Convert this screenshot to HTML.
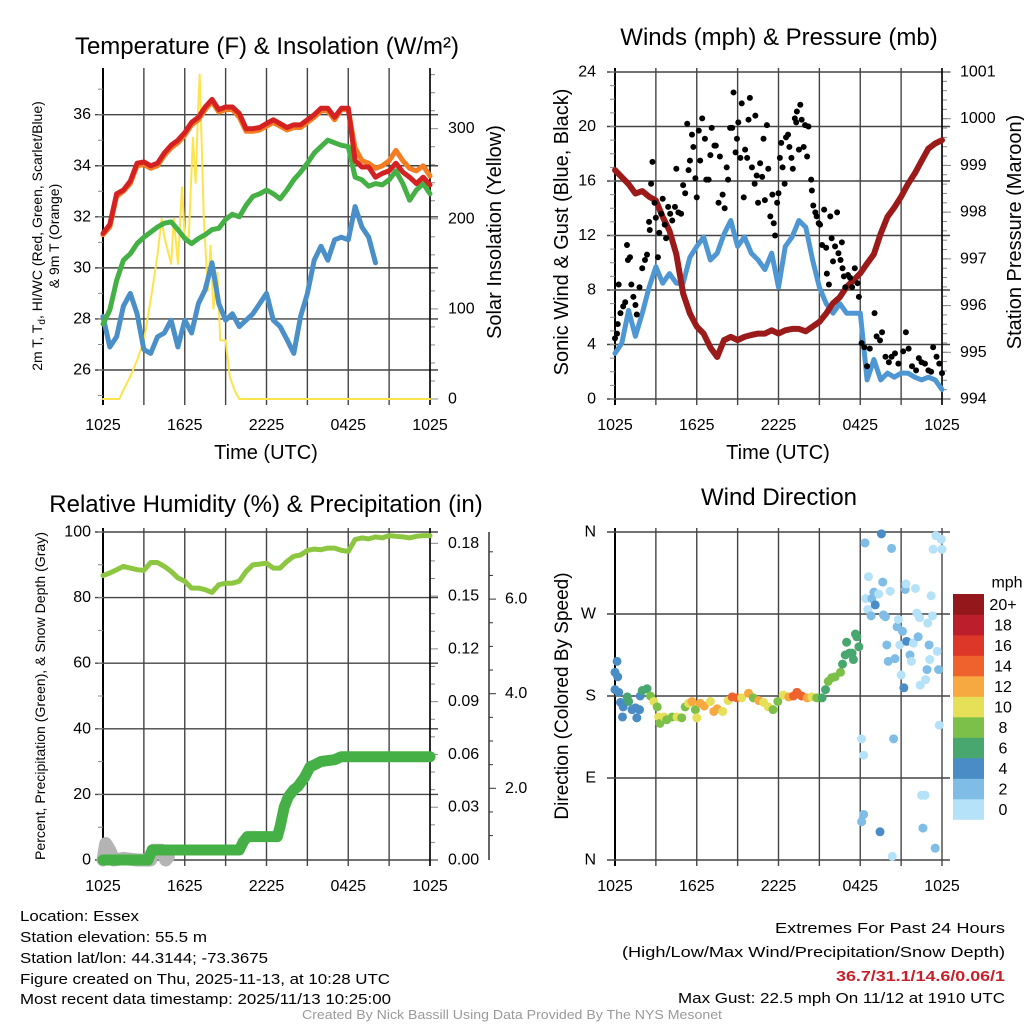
<!DOCTYPE html>
<html><head><meta charset="utf-8"><style>
html,body{margin:0;padding:0;background:#fff;}
svg{display:block;font-family:"Liberation Sans",Arial,sans-serif;}
</style></head><body>
<svg id="fig" width="1024" height="1024" viewBox="0 0 1024 1024" xmlns="http://www.w3.org/2000/svg">
<rect width="1024" height="1024" fill="#fff"/>
<g id="p1"></g>
<g id="p2"></g>
<g id="p3"></g>
<g id="p4"></g>
<g font-family="'Liberation Sans Narrow','Liberation Sans',sans-serif" font-size="15" fill="#000">
<text x="20" y="921" textLength="119" lengthAdjust="spacingAndGlyphs">Location: Essex</text>
<text x="20" y="942" textLength="187" lengthAdjust="spacingAndGlyphs">Station elevation: 55.5 m</text>
<text x="20" y="963" textLength="248" lengthAdjust="spacingAndGlyphs">Station lat/lon: 44.3144; -73.3675</text>
<text x="20" y="984" textLength="370" lengthAdjust="spacingAndGlyphs">Figure created on Thu, 2025-11-13, at 10:28 UTC</text>
<text x="20" y="1004" textLength="371" lengthAdjust="spacingAndGlyphs">Most recent data timestamp: 2025/11/13 10:25:00</text>
</g>
<g font-family="'Liberation Sans Narrow','Liberation Sans',sans-serif" font-size="15" fill="#000">
<text x="775" y="933" textLength="230" lengthAdjust="spacingAndGlyphs">Extremes For Past 24 Hours</text>
<text x="622" y="957" textLength="383" lengthAdjust="spacingAndGlyphs">(High/Low/Max Wind/Precipitation/Snow Depth)</text>
<text x="836" y="981" textLength="169" lengthAdjust="spacingAndGlyphs" fill="#c8202a" font-weight="bold">36.7/31.1/14.6/0.06/1</text>
<text x="678" y="1003" textLength="327" lengthAdjust="spacingAndGlyphs">Max Gust: 22.5 mph On 11/12 at 1910 UTC</text>
</g>
<text x="302" y="1019" textLength="420" lengthAdjust="spacingAndGlyphs" font-family="'Liberation Sans Narrow','Liberation Sans',sans-serif" font-size="12.5" fill="#9a9a9a">Created By Nick Bassill Using Data Provided By The NYS Mesonet</text>
</svg>
<script>
// ---- data ----
const hours = [0,0.5,1,1.5,2,2.5,3,3.5,4,4.5,5,5.5,6,6.5,7,7.5,8,8.5,9,9.5,10,10.5,11,11.5,12,12.5,13,13.5,14,14.5,15,15.5,16,16.5,17,17.5,18,18.5,19,19.5,20,20.5,21,21.5,22,22.5,23,23.5,24];
const timeTickLabels = ["1025","1625","2225","0425","1025"];
const tempRed = [31.35,31.7,32.9,33.05,33.4,34.1,34.15,34.0,34.1,34.5,34.8,35.0,35.3,35.7,35.9,36.3,36.6,36.2,36.3,36.3,36.05,35.45,35.45,35.5,35.65,35.8,35.65,35.5,35.6,35.6,35.8,36.0,36.25,36.25,35.9,36.25,36.25,34.2,33.95,33.95,33.55,33.7,33.8,34.1,33.75,33.55,33.3,33.55,33.25];
const temp9m = [31.3,31.6,32.8,33.0,33.3,34.0,34.05,33.9,34.0,34.4,34.7,34.9,35.2,35.6,35.8,36.2,36.5,36.1,36.2,36.2,35.9,35.35,35.35,35.4,35.55,35.7,35.55,35.4,35.5,35.5,35.7,35.9,36.15,36.15,35.8,36.2,36.2,34.7,34.2,34.1,33.9,34.0,34.2,34.6,34.2,33.9,33.8,34.0,33.6];
const dewGreen = [27.8,28.35,29.5,30.3,30.55,30.95,31.2,31.4,31.6,31.75,31.8,31.5,31.15,30.95,31.15,31.3,31.5,31.55,31.9,32.1,32.0,32.45,32.8,32.9,33.05,32.9,32.7,33.05,33.45,33.75,34.1,34.5,34.75,35.0,34.9,34.8,34.75,33.55,33.45,33.2,33.3,33.25,33.45,33.8,33.3,32.65,33.05,33.3,32.9];
const chillBlue = [28.1,26.9,27.3,28.5,29.0,28.2,26.8,26.65,27.3,27.45,27.95,26.9,27.95,27.45,28.6,29.15,30.2,28.6,27.95,28.2,27.7,27.95,28.2,28.6,29.0,27.95,27.7,27.2,26.65,28.1,29.0,30.3,30.85,30.3,31.1,31.2,31.1,32.4,31.6,31.2,30.2,null,32.05,null,null,null,null,null,null];
const solarT = [0,1.2,1.5,2,2.5,3,3.5,4,4.3,4.5,5,5.2,5.5,5.8,6,6.3,6.6,6.8,7,7.1,7.4,7.7,7.9,8.1,8.4,8.6,9,9.3,9.7,10,24];
const solarW = [0,0,10,25,43,65,110,160,200,180,150,200,150,235,180,180,290,240,330,360,200,120,170,100,140,65,65,25,8,0,0];
const windBlue = [3.35,4.1,6.5,4.6,6.3,8.2,9.7,8.5,9.2,8.5,8.5,10.4,11.2,11.9,10.2,10.7,12.1,13.1,11.2,11.9,10.7,10.2,9.5,10.7,8.2,11.2,11.9,13.1,12.6,10.2,8.2,7.0,6.3,7.0,6.3,6.3,6.3,1.4,2.9,1.4,1.9,1.6,1.9,1.9,1.6,1.4,1.6,1.4,0.7];
const pressure = [998.9,998.75,998.6,998.4,998.45,998.33,998.25,997.9,997.6,997.1,996.26,995.83,995.55,995.4,995.1,994.9,995.26,995.33,995.26,995.33,995.37,995.4,995.4,995.47,995.4,995.47,995.5,995.5,995.45,995.55,995.65,995.83,996.05,996.18,996.4,996.54,996.69,996.9,997.1,997.54,997.9,998.1,998.33,998.6,998.83,999.1,999.36,999.47,999.54];
const gustT = [0,0.15,0.2,0.27,0.4,0.6,0.75,0.88,0.95,1.1,1.2,1.35,1.5,1.6,1.8,2.0,2.2,2.35,2.5,2.55,2.65,2.75,2.9,3.0,3.15,3.25,3.4,3.5,3.65,3.75,3.9,4.05,4.2,4.4,4.5,4.65,4.85,5.0,5.15,5.3,5.4,5.5,5.65,5.75,5.9,6.0,6.15,6.25,6.4,6.6,6.7,6.87,7.0,7.1,7.3,7.4,7.6,7.7,7.9,8.05,8.2,8.3,8.45,8.6,8.7,8.85,8.95,9.05,9.2,9.3,9.45,9.55,9.7,9.8,9.9,10.05,10.25,10.3,10.4,10.5,10.65,10.8,10.9,11.0,11.15,11.25,11.4,11.55,11.65,11.75,11.9,12.0,12.1,12.2,12.3,12.45,12.55,12.7,12.8,12.95,13.05,13.2,13.3,13.35,13.5,13.6,13.7,13.85,13.95,14.1,14.2,14.4,14.45,14.55,14.7,14.8,14.95,15.05,15.2,15.35,15.5,15.55,15.7,15.8,15.9,16.0,16.15,16.3,16.4,16.55,16.65,16.7,16.8,16.9,17.1,17.25,17.4,17.6,17.8,17.9,18.1,18.3,18.5,18.7,19.05,19.2,19.45,19.6,19.85,20.1,20.3,20.55,20.8,21.15,21.35,21.55,21.8,22.1,22.3,22.5,22.75,23.0,23.2,23.35,23.6,23.8,24.0];
const gustV = [4.45,4.8,5.5,8.4,6.3,6.8,7.1,11.3,10.2,10.4,8.4,7.5,6.9,6.2,8.2,9.6,10.2,10.6,13.0,12.4,15.8,17.4,14.4,13.3,10.4,12.2,13.6,14.7,12.8,11.8,14.1,13.6,13.1,14.1,16.9,13.7,13.6,15.7,15.1,20.2,16.8,17.5,19.4,18.5,16.2,14.8,19.7,17.5,20.6,19.1,16.1,16.1,17.9,19.9,18.6,18.6,14.4,17.8,15.0,14.0,17.0,16.1,19.9,19.9,22.5,18.1,19.1,20.3,17.7,21.7,14.8,18.3,17.7,20.5,22.1,17.0,15.8,20.8,16.4,14.4,17.3,16.3,19.1,14.6,20.1,16.9,13.4,15.0,12.9,12.0,14.4,15.1,17.7,18.8,17.0,15.8,19.2,19.4,18.5,17.7,16.9,20.6,20.3,21.1,18.3,21.6,20.5,18.5,20.1,17.8,20.0,16.1,15.3,14.2,13.7,13.4,12.9,12.8,11.3,13.9,11.1,9.2,8.4,13.4,11.8,10.1,11.2,13.7,10.7,10.2,11.5,9.6,9.0,8.2,9.1,8.9,8.2,9.6,8.5,7.5,4.1,3.8,2.4,3.7,6.3,4.6,4.3,4.9,3.1,2.7,3.1,3.35,2.6,3.5,4.9,3.7,2.4,2.1,3.0,2.7,2.6,2.1,2.0,3.8,3.1,2.6,1.9];
const rh = [86.7,87.5,88.5,89.5,89,88.5,88.3,90.7,90.7,89.5,88,86,85,82.9,82.9,82.4,81.6,83.9,84.4,84.4,85,88,90,90.2,90.5,89,89,91,92.6,93,94.4,94.8,94.6,95.1,95.1,94.4,94.1,97.7,98.2,97.9,98.5,98.2,98.9,98.7,98.5,98.2,98.7,98.9,98.9];
const precipT = [0,3.3,3.6,10.0,10.3,10.6,12.8,13.0,13.3,13.6,14.0,14.3,14.8,15.2,15.5,16.0,17.0,17.5,24];
const precipV = [0,0,0.0057,0.0057,0.0104,0.0133,0.0133,0.019,0.030,0.036,0.040,0.0417,0.047,0.053,0.054,0.056,0.057,0.0587,0.0587];
const snowT = [0,0.2,0.5,0.8,1.5,2.5,3.5,3.7,4.3,4.6,4.8];
const snowV = [0,5,3,0,0.5,0,0,3,3,0,1];
const dirT = [0,0.15,0.2,0,0.27,0.4,0.6,0.55,0.9,1.0,1.25,1.5,1.6,1.8,1.85,2.0,2.35,2.6,2.85,3.1,3.2,3.3,3.6,3.8,4.2,4.55,4.9,5.15,5.4,5.65,5.9,6.0,6.25,6.55,7.0,7.25,7.5,7.9,8.3,8.6,8.95,9.3,9.8,10.15,10.55,10.9,11.25,11.6,11.95,12.35,12.75,13.1,13.35,13.7,14.1,14.45,14.8,15.2,15.45,15.65,15.9,16.15,16.55,16.7,16.9,17.0,17.2,17.4,17.5,17.65,17.75,17.9,18.1,18.25,18.1,18.25,18.35,18.6,18.4,18.55,18.8,18.85,19.0,19.1,19.35,19.45,19.55,19.65,19.7,19.85,19.95,20.05,20.2,20.3,20.45,20.35,20.55,20.7,20.8,20.9,21.0,21.1,21.2,21.3,21.35,21.4,21.65,21.75,21.9,22.05,22.15,22.25,22.35,22.4,22.5,22.75,22.6,22.8,22.95,23.05,23.1,23.2,23.3,22.9,23.35,23.5,23.55,23.65,23.75,23.8,24.0,23.95];
const dirDeg = [206,218,201,187,184,173,168,157,179,174,165,167,156,165,180,186,188,180,174,168,157,150,157,154,157,157,156,168,172,174,165,156,172,169,174,163,166,163,175,179,178,178,183,178,175,173,168,165,174,181,179,180,184,180,178,179,178,178,187,196,200,201,206,215,225,239,227,227,220,248,245,234,133,115,42,50,348,311,287,275,268,287,294,280,292,31,358,305,269,267,236,218,295,342,133,4,221,256,264,236,203,251,189,297,303,240,225,218,238,298,271,245,266,192,71,71,35,198,260,236,220,290,268,209,341,13,356,229,209,148,341,352];
const dirSpd = [4.5,4.5,4.5,4.5,4.5,4.5,4.5,4.5,6.5,6.5,4.5,4.5,4.5,4.5,4.5,6.5,6.5,8.5,10.5,8.5,10.5,8.5,10.5,8.5,8.5,10.5,8.5,8.5,10.5,12.5,8.5,10.5,12.5,12.5,10.5,12.5,12.5,10.5,10.5,14.5,14.5,10.5,12.5,8.5,12.5,10.5,10.5,8.5,8.5,10.5,12.5,14.5,14.5,14.5,12.5,10.5,8.5,6.5,6.5,8.5,8.5,8.5,8.5,6.5,6.5,6.5,6.5,6.5,6.5,6.5,6.5,6.5,0.5,0.5,2.5,2.5,2.5,0.5,0.5,1,2.5,2.5,2.5,4.5,1,4.5,4.5,2.5,2.5,2.5,2.5,2.5,1,2.5,2.5,0.5,2.5,2.5,1,1,1,2.5,4.5,2.5,1,4.5,2.5,1,1,1,1,2.5,1,1,1,1,2.5,1,1,2.5,1,1,1,2.5,1,2.5,1,1,2.5,1,1,1];
const speedBins = ["0","2","4","6","8","10","12","14","16","18","20+"];
const speedColors = ["#b5e2f8","#7fbce6","#4a8dc6","#48a66f","#7cc04a","#e6df58","#f6a940","#f0622d","#dc3729","#bd1e2b","#94171c"];

// ---- helpers ----
const NS="http://www.w3.org/2000/svg";
function mk(parent,tag,attrs,text){const e=document.createElementNS(NS,tag);for(const k in attrs)e.setAttribute(k,attrs[k]);if(text!==undefined)e.textContent=text;parent.appendChild(e);return e;}
function lin(d0,d1,r0,r1){return v=>r0+(v-d0)/(d1-d0)*(r1-r0);}
function pathD(ts,vs,sx,sy){let d="",pen=false;for(let i=0;i<ts.length;i++){const v=vs[i];if(v===null||v===undefined){pen=false;continue;}d+=(pen?"L":"M")+sx(ts[i]).toFixed(1)+","+sy(v).toFixed(1);pen=true;}return d;}
function frame(g,L,R,T,B,sx){
  for(let h=0;h<=24;h+=3){const x=sx(h);const ln=mk(g,"line",{x1:x,x2:x,y1:T-4,y2:B+6,stroke:h==0?"#000":"#444","stroke-width":h==0?2:1.4});
    
    }
  for(let i=0;i<timeTickLabels.length;i++){const t=mk(g,"text",{x:sx(i*6),y:B+31,"font-size":16,"text-anchor":"middle"},timeTickLabels[i]);
    
    }
}
function hgrid(g,L,R,y,name){const ln=mk(g,"line",{x1:L-8,x2:R+8,y1:y,y2:y,stroke:"#444","stroke-width":1.4});
  
  }
function tick(g,x1,x2,y){mk(g,"line",{x1:x1,x2:x2,y1:y,y2:y,stroke:"#888","stroke-width":1});}
function label(g,x,y,txt,anchor,size,name){const t=mk(g,"text",{x:x,y:y,"font-size":size||16,"text-anchor":anchor||"end","dominant-baseline":"central"},txt);
  
  return t;}
function vtitle(g,x,y,txt,size,name,len){const a={x:0,y:0,"font-size":size,"text-anchor":"middle",transform:`translate(${x},${y}) rotate(-90)`};if(len){a.textLength=len;a.lengthAdjust="spacingAndGlyphs";}const t=mk(g,"text",a,txt);
  
  return t;}
function title(g,x,y,txt,name){const t=mk(g,"text",{x:x,y:y,"font-size":24,"text-anchor":"middle"},txt);
  
  return t;}
function series(g,ts,vs,sx,sy,color,w,name){const p=mk(g,"path",{d:pathD(ts,vs,sx,sy),fill:"none",stroke:color,"stroke-width":w,"stroke-linejoin":"round","stroke-linecap":"round"});
  
  return p;}

// ---- Panel 1 ----
(function(){
  const g=document.getElementById('p1');const L=103,R=430,T=72,B=399;
  const sx=lin(0,24,L,R), sy=lin(26,36,370,114.7), sw=lin(0,300,399,128.7);
  title(g,267,54,"Temperature (F) & Insolation (W/m²)","temperature-title");
  frame(g,L,R,T,B,sx);
  for(let v=26;v<=36;v+=2){hgrid(g,L,R,sy(v),'y-grid-line');label(g,91,sy(v),String(v),"end",16,'y-tick-label');}
  for(let v=25;v<=37;v++){tick(g,L-5,L,sy(v));}
  for(let v=0;v<=360;v+=20){tick(g,R,R+(v%100==0?8:5),sw(v));}
  for(let v=0;v<=300;v+=100){label(g,448,sw(v),String(v),"start",16,'right-tick-label');}
  mk(g,"line",{x1:R,x2:R,y1:T-4,y2:B+6,stroke:"#000","stroke-width":1.5});
  series(g,solarT,solarW,sx,sw,"#fde34c",2,'solar-insolation-line');
  series(g,hours,chillBlue,sx,sy,"#4a8fc8",5,'wind-chill-line');
  series(g,hours,dewGreen,sx,sy,"#45b045",5,'dewpoint-line');
  series(g,hours,temp9m,sx,sy,"#f47d22",5,'temperature-9m-line');
  series(g,hours,tempRed,sx,sy,"#d42222",5,'temperature-2m-line');
  const t=mk(g,"text",{transform:"translate(42,236) rotate(-90)","font-size":14,"text-anchor":"middle"});
  t.innerHTML='2m T, T<tspan font-size="10" dy="3">d</tspan><tspan dy="-3">, HI/WC (Red, Green, Scarlet/Blue)</tspan>';
  
  
  vtitle(g,59,236,"& 9m T (Orange)",14,'left-axis-title-line2');
  vtitle(g,501,232,"Solar Insolation (Yellow)",20,'right-axis-title');
  const xt=mk(g,"text",{x:266,y:459,"font-size":20,"text-anchor":"middle"},"Time (UTC)");
  
  
})();

// ---- Panel 2 ----
(function(){
  const g=document.getElementById('p2');const L=615,R=942,T=72,B=399;
  const sx=lin(0,24,L,R), sy=lin(0,24,B,T), sp=lin(994,1001,B,T);
  title(g,779,45,"Winds (mph) & Pressure (mb)","winds-title");
  frame(g,L,R,T,B,sx);
  for(let v=0;v<=24;v+=4){hgrid(g,L,R,sy(v),'y-grid-line');label(g,596,sy(v),String(v),"end",16,'y-tick-label');}
  for(let v=0;v<=24;v++){tick(g,L-5,L,sy(v));}
  for(let v=994;v<=1001.001;v+=0.2){tick(g,R,R+5,sp(v));}
  for(let v=994;v<=1001;v++){tick(g,R,R+9,sp(v));label(g,960,sp(v),String(v),"start",16,'right-tick-label');}
  mk(g,"line",{x1:R,x2:R,y1:T-4,y2:B+6,stroke:"#000","stroke-width":1.5});
  series(g,hours,windBlue,sx,sy,"#4f97d2",5,'sonic-wind-line');
  series(g,hours,pressure,sx,sp,"#9b1b1b",6,'pressure-line');
  for(let i=0;i<gustT.length;i++){const c=mk(g,"circle",{cx:sx(gustT[i]),cy:sy(gustV[i]),r:3,fill:"#000"});
    
    }
  vtitle(g,568,232,"Sonic Wind & Gust (Blue, Black)",20,'left-axis-title');
  vtitle(g,1021,232,"Station Pressure (Maroon)",20,'right-axis-title');
  const xt=mk(g,"text",{x:778,y:459,"font-size":20,"text-anchor":"middle"},"Time (UTC)");
  
  
})();

// ---- Panel 3 ----
(function(){
  const g=document.getElementById('p3');const L=103,R=430,T=532,B=860;
  const sx=lin(0,24,L,R), sy=lin(0,100,B,T), spr=lin(0,0.18,B,543.3), ssn=lin(2,4,788.3,693.7);
  title(g,266,512,"Relative Humidity (%) & Precipitation (in)","humidity-title");
  frame(g,L,R,T,B,sx);
  for(let v=0;v<=100;v+=20){hgrid(g,L,R,sy(v),'y-grid-line');label(g,91,sy(v),String(v),"end",16,'y-tick-label');}
  for(let v=0;v<=100;v+=10){tick(g,L-5,L,sy(v));}
  for(let i=0;i<=18;i++){tick(g,R,R+(i%3==0?8:5),spr(i*0.01));}
  for(let i=0;i<=6;i++){label(g,448,spr(i*0.03),(i*0.03).toFixed(2),"start",16,'precip-tick-label');}
  mk(g,"line",{x1:R,x2:R,y1:T-4,y2:B+6,stroke:"#000","stroke-width":1.5});
  const ax=mk(g,"line",{x1:489,x2:489,y1:T,y2:B,stroke:"#333","stroke-width":1.5});
  
  
  for(let v=1;v<=7;v+=0.5){const y=ssn(v);if(y<T||y>B)continue;mk(g,"line",{x1:489,x2:489+(v%2==0?7:4),y1:y,y2:y,stroke:"#333","stroke-width":1});}
  for(let v=2;v<=6;v+=2){label(g,505,ssn(v),v.toFixed(1),"start",16,'snow-tick-label');}
  series(g,snowT,snowV,sx,sy,"#b4b4b4",13,'snow-depth-line');
  series(g,hours,rh,sx,sy,"#8dc640",5,'relative-humidity-line');
  series(g,precipT,precipV,sx,spr,"#45b045",11,'precipitation-line');
  vtitle(g,45,696,"Percent, Precipitation (Green), & Snow Depth (Gray)",14,'left-axis-title',328);
})();

// ---- Panel 4 ----
(function(){
  const g=document.getElementById('p4');const L=615,R=942,T=532,B=860;
  const sx=lin(0,24,L,R), sy=lin(0,360,B,T);
  title(g,779,505,"Wind Direction","wind-direction-title");
  frame(g,L,R,T,B,sx);
  const dl=["N","E","S","W","N"];
  for(let i=0;i<5;i++){hgrid(g,L,R,sy(i*90),'direction-grid-line');label(g,596,sy(i*90),dl[i],"end",16,'direction-tick-label');}
  for(let i=0;i<dirT.length;i++){const bin=Math.min(10,Math.floor(dirSpd[i]/2));const c=mk(g,"circle",{cx:sx(dirT[i]),cy:sy(dirDeg[i]),r:4.5,fill:speedColors[bin]});
    
    }
  vtitle(g,568,696,"Direction (Colored By Speed)",19,'left-axis-title');
  const cb=mk(g,"g",{});
  
  
  const h=20.5, top=594;
  for(let i=0;i<speedBins.length;i++){const y=top+(10-i)*h;const r=mk(cb,"rect",{x:953,y:y,width:31,height:h+0.3,fill:speedColors[i]});
    
    
    label(cb,1003,y+h/2+1,speedBins[i],"middle",16,'colorbar-label');}
  label(cb,1007,583,"mph","middle",16,'colorbar-title');
})();
</script>
</body></html>
